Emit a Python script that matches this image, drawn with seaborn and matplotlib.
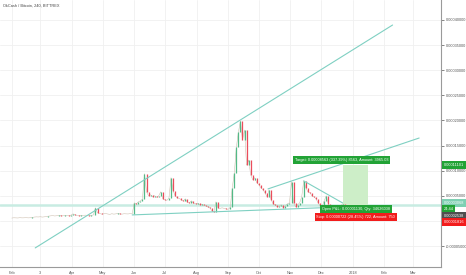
import numpy as np
import pandas as pd
import matplotlib
matplotlib.use("Agg")
import matplotlib.pyplot as plt
import matplotlib.dates as mdates
import matplotlib.transforms as mtransforms
import seaborn as sns

sns.set_style("white")
plt.rcParams['font.family'] = ['Liberation Sans', 'DejaVu Sans']

# ---------------- data ----------------
title = "OkCash / Bitcoin, 240, BITTREX"
start_date = "2017-02-01"   # one value every 2 days
close_sat = [
    560, 620, 600, 580, 640, 600, 610, 650, 600, 620,
    700, 760, 800, 780, 820, 760, 800, 860,
    950, 1000, 1050, 980, 1020, 1100, 1050, 1000, 1080, 1120, 1060, 1150,
    1400, 1200,
    1100, 1050, 1120, 1080, 1150, 1100, 1050, 1120, 1180,
    2600, 1600,
    1500, 1350, 1400, 1450, 1380, 1300, 1420, 1350, 1400, 1480, 1380, 1350, 1420, 1400, 1380, 1450, 1400,
    3600, 3400, 3800, 4000, 4300, 9400, 5800, 5000, 5200, 4800,
    5000, 4700, 5000, 5800, 4400, 4200, 4100, 4600, 8600, 6000,
    5000, 4600, 4500, 4200, 4000, 4400, 3700, 3600, 4000, 3500,
    3400, 3500, 3200, 3300, 3100, 3000, 2800, 2600, 2000, 1800,
    3800, 2600, 2500, 2600, 2500, 2400, 2300, 2700, 6600, 9600,
    14700, 17700, 19900, 16100, 18100, 11100, 12100, 9200, 8200, 8600,
    7600, 7200, 6600, 6200, 5600, 4800, 6200, 4200, 3400, 3200,
    2800, 3000, 3200, 2600, 3000, 3400, 3600, 7800, 3600, 2800,
    3200, 3600, 4800, 8000, 6600, 5800, 5600, 5000, 4800, 4400,
    3600, 3000, 2800, 4000, 5000, 3400, 2400, 2000, 1800, 2200,
    2600, 3000, 3400, 3068,
]

# trend lines: (start date, start value, end date, end value)
trend_lines = [
    ("2017-02-24", -0.0000538, "2018-02-09", 0.000390),
    ("2017-05-30", 0.0000119, "2017-12-24", 0.0000279),
    ("2017-10-10", 0.0000637, "2018-03-07", 0.000165),
    ("2017-11-14", 0.0000796, "2017-12-22", 0.0000358),
]

last_price = 0.00003068
entry_price = 0.00002538
target_price = 0.00011101
stop_price = 0.00001816
position_start = "2017-12-22"
position_end = "2018-01-16"

target_text = "Target: 0.00008563 (337.39%) 8563, Amount: 3965.03"
pnl_text = "Open P&L: 0.00001130, Qty: 34626038"
stop_text = "Stop: 0.00000722 (28.45%) 722, Amount: 750"

month_ticks = ["2017-02-01", "2017-03-01", "2017-04-01", "2017-05-01", "2017-06-01",
               "2017-07-01", "2017-08-01", "2017-09-01", "2017-10-01", "2017-11-01",
               "2017-12-01", "2018-01-01", "2018-02-01", "2018-03-01"]
month_labels = ["Feb", "3", "Apr", "May", "Jun", "Jul", "Aug", "Sep", "Oct", "Nov",
                "Dec", "2018", "Feb", "Mar"]
y_ticks = [-0.00005, 0.0, 0.00005, 0.0001, 0.00015, 0.0002, 0.00025, 0.0003, 0.00035, 0.0004]

# ---------------- figure ----------------
GREEN = "#53b987"
RED = "#eb4d5c"
LINE = "#7fd0c2"
LBL_GREEN = "#22a336"
LBL_RED = "#f21c1c"

fig = plt.figure(figsize=(4.66, 2.75), dpi=100)
ax = fig.add_axes([0, 8 / 275, 441 / 466, 267 / 275])

dates = pd.date_range(start_date, periods=len(close_sat), freq="2D")
close = np.array(close_sat) * 1e-8
df = pd.DataFrame({"date": dates, "close": close})
opens = np.concatenate([[close[0]], close[:-1]])

# grid
for d in month_ticks:
    ax.axvline(pd.Timestamp(d), color="#f0f0f0", lw=0.6, zorder=0)
for v in y_ticks:
    ax.axhline(v, color="#f0f0f0", lw=0.6, zorder=0)

# last-price horizontal band
ax.axhline(last_price, color="#c8ece2", lw=1.8, zorder=1)

# position zones
ts0, ts1 = pd.Timestamp(position_start), pd.Timestamp(position_end)
ax.fill_between([ts0, ts1], entry_price, target_price, color="#cdeec8", lw=0, zorder=1)
ax.fill_between([ts0, ts1], stop_price, entry_price, color="#f6d2d2", lw=0, zorder=1)

# price (candle-like bars)
sns.lineplot(data=df, x="date", y="close", ax=ax, color="#c9b9a8", lw=0.35, zorder=2)
up = close >= opens
ax.vlines(dates[up], opens[up], close[up], color=GREEN, lw=0.9, zorder=3)
ax.vlines(dates[~up], opens[~up], close[~up], color=RED, lw=0.9, zorder=3)

# trend lines
for (d0, v0, d1, v1) in trend_lines:
    tl = pd.DataFrame({"date": pd.to_datetime([d0, d1]), "v": [v0, v1]})
    sns.lineplot(data=tl, x="date", y="v", ax=ax, color=LINE, lw=0.8, zorder=4)

# position labels
fs = 2.8
ax.text(pd.Timestamp("2017-12-21"), 0.0001215, target_text, ha="center", va="center",
        fontsize=fs, color="white", zorder=6,
        bbox=dict(boxstyle="square,pad=0.45", fc=LBL_GREEN, ec="none"))
ax.text(pd.Timestamp("2018-01-04"), 0.0000239, pnl_text, ha="center", va="center",
        fontsize=fs, color="white", zorder=6,
        bbox=dict(boxstyle="square,pad=0.45", fc=LBL_GREEN, ec="none"))
ax.text(pd.Timestamp("2018-01-04"), 0.0000080, stop_text, ha="center", va="center",
        fontsize=fs, color="white", zorder=6,
        bbox=dict(boxstyle="square,pad=0.45", fc=LBL_RED, ec="none"))

# axes
ax.set_xlim(mdates.date2num(pd.Timestamp("2017-01-20 12:00")),
            mdates.date2num(pd.Timestamp("2018-03-28 10:00")))
ax.set_ylim(-0.0000918, 0.0004398)
ax.set_xticks([pd.Timestamp(d) for d in month_ticks])
ax.set_xticklabels(month_labels)
ax.yaxis.tick_right()
ax.set_yticks(y_ticks)
ax.set_yticklabels(["" if v == 0 else "%.8f" % v for v in y_ticks])
ax.tick_params(axis="both", labelsize=fs, colors="#555555", length=2, width=0.5, pad=1.2)
ax.set_xlabel("")
ax.set_ylabel("")
for s in ["left", "top"]:
    ax.spines[s].set_visible(False)
for s in ["right", "bottom"]:
    ax.spines[s].set_color("#9a9a9a")
    ax.spines[s].set_linewidth(0.8)

# right-axis price labels
trans = mtransforms.blended_transform_factory(ax.transAxes, ax.transData)
axis_labels = [
    ("0.00011101", 0.00011101, LBL_GREEN),
    ("0.00003068", 0.0000358, "#7fd0b3"),
    ("24:44", 0.0000239, LBL_GREEN),
    ("0.00002538", 0.0000100, "#4f4f4f"),
    ("0.00001816", -0.0000020, LBL_RED),
]
for txt, yv, c in axis_labels:
    ax.text(1.006, yv, txt, transform=trans, ha="left", va="center", fontsize=fs,
            color="white", zorder=7, clip_on=False,
            bbox=dict(boxstyle="square,pad=0.45", fc=c, ec="none"))

fig.text(3 / 466, 1 - 6 / 275, title, ha="left", va="center", fontsize=fs, color="#444444")

fig.savefig("out.png", dpi=100)
